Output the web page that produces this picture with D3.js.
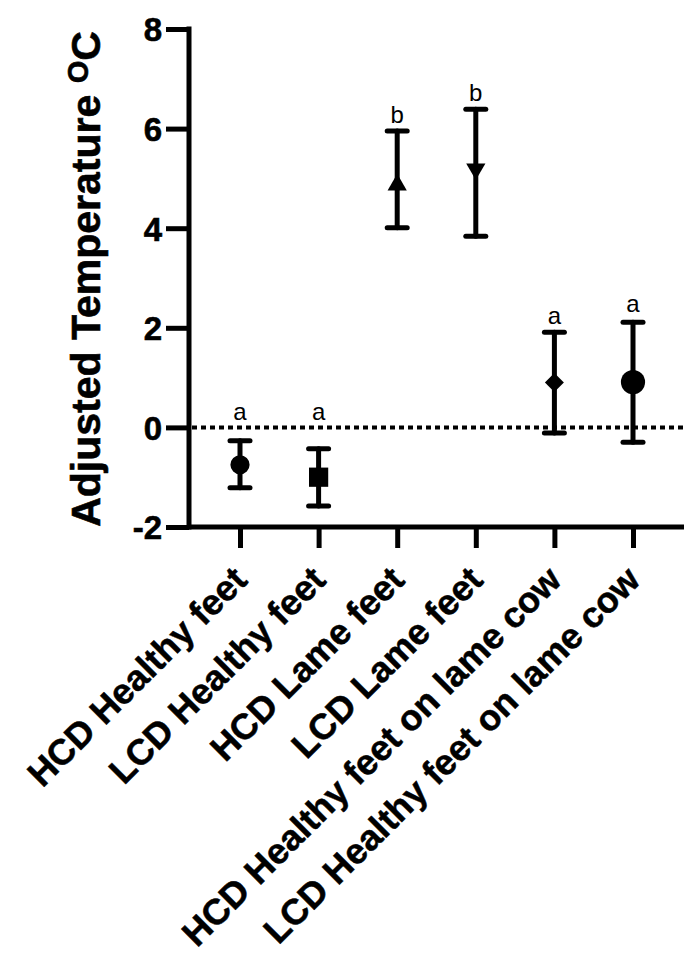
<!DOCTYPE html>
<html>
<head>
<meta charset="utf-8">
<script src="https://cdn.jsdelivr.net/npm/d3@7.9.0/dist/d3.min.js"></script>
<style>
  body { margin: 0; background: #fff; }
  svg { display: block; font-family: Arial, "Liberation Sans", sans-serif; }
</style>
</head>
<body>
<div id="chart"></div>
<script>
// data
const groups = ['HCD Healthy feet', 'LCD Healthy feet', 'HCD Lame feet', 'LCD Lame feet',
  'HCD Healthy feet on lame cow', 'LCD Healthy feet on lame cow'];
const means = [-0.75, -1.0, 4.87, 5.19, 0.90, 0.91];
const upper = [-0.27, -0.43, 5.95, 6.39, 1.91, 2.11];
const lower = [-1.21, -1.58, 4.01, 3.84, -0.11, -0.30];
const letters = ['a', 'a', 'b', 'b', 'a', 'a'];
const letterPos = [0.14, 0.14, 6.12, 6.55, 2.07, 2.31];
const yTicks = [-2, 0, 2, 4, 6, 8];

const width = 684;
const height = 963;

const svg = d3.select('#chart').append('svg')
  .attr('width', width)
  .attr('height', height);

const axisX = 189;
const y = d3.scaleLinear().domain([-2, 8]).range([527, 29]);
const x = d3.scalePoint().domain(groups).range([240, 633]);

// marker shapes, one per group
const shapes = [
  { type: d3.symbolCircle, size: 290, rot: 0 },
  { type: d3.symbolSquare, size: 370, rot: 0 },
  { type: d3.symbolTriangle, size: 160, rot: 0 },
  { type: d3.symbolTriangle, size: 160, rot: 180 },
  { type: d3.symbolSquare, size: 180, rot: 45 },
  { type: d3.symbolCircle, size: 460, rot: 0 }
];

// y axis
const yAxis = svg.append('g')
  .attr('transform', `translate(${axisX},0)`)
  .call(d3.axisLeft(y).tickValues(yTicks).tickFormat(d => String(d))
    .tickSize(23).tickSizeOuter(0).tickPadding(4));
yAxis.select('.domain').attr('stroke-width', 5).attr('stroke', '#000')
  .attr('d', `M0,${y(8) - 2.5}V${y(-2) + 2.5}`);
yAxis.selectAll('.tick line').attr('stroke-width', 5).attr('stroke', '#000');
yAxis.selectAll('.tick text')
  .attr('font-size', 33).attr('font-weight', 'bold').attr('fill', '#000')
  .attr('stroke', '#000').attr('stroke-width', 0.6)
  .attr('dy', '0.36em');

// x axis
const xAxis = svg.append('g')
  .attr('transform', `translate(0,${y(-2)})`)
  .call(d3.axisBottom(x).tickSize(21).tickSizeOuter(0).tickFormat(''));
xAxis.select('.domain').attr('stroke-width', 5).attr('stroke', '#000')
  .attr('d', `M${axisX},0H${width}`);
xAxis.selectAll('.tick line').attr('stroke-width', 5).attr('stroke', '#000');

svg.append('g')
  .selectAll('text')
  .data(groups)
  .join('text')
  .attr('transform', d => `translate(${x(d) + 9},${y(-2) + 55}) rotate(-45)`)
  .attr('text-anchor', 'end')
  .attr('font-size', 36)
  .attr('font-weight', 'bold')
  .attr('stroke', '#000').attr('stroke-width', 0.5)
  .text(d => d);

// y title
const title = svg.append('text')
  .attr('transform', `translate(100,${(y(-2) + y(8)) / 2 + 1}) rotate(-90)`)
  .attr('text-anchor', 'middle')
  .attr('font-size', 41)
  .attr('font-weight', 'bold')
  .attr('stroke', '#000').attr('stroke-width', 0.6);
title.append('tspan').text('Adjusted Temperature ');
title.append('tspan').attr('font-size', 29).attr('dy', -12).text('O');
title.append('tspan').attr('dy', 12).text('C');

// zero line
svg.append('line')
  .attr('x1', axisX + 3).attr('x2', width)
  .attr('y1', y(0)).attr('y2', y(0))
  .attr('stroke', '#000')
  .attr('stroke-width', 4)
  .attr('stroke-dasharray', '5 4');

// error bars
const bars = svg.append('g').attr('stroke', '#000').attr('stroke-width', 5).attr('stroke-linecap', 'round');
groups.forEach((g, i) => {
  bars.append('line')
    .attr('x1', x(g)).attr('x2', x(g))
    .attr('y1', y(upper[i])).attr('y2', y(lower[i]));
  [upper[i], lower[i]].forEach(v => {
    bars.append('line')
      .attr('x1', x(g) - 10).attr('x2', x(g) + 10)
      .attr('y1', y(v)).attr('y2', y(v));
  });
});

// markers
svg.append('g')
  .selectAll('path')
  .data(groups)
  .join('path')
  .attr('transform', (d, i) => `translate(${x(d)},${y(means[i])}) rotate(${shapes[i].rot})`)
  .attr('d', (d, i) => d3.symbol(shapes[i].type, shapes[i].size)())
  .attr('fill', '#000');

// significance letters
svg.append('g')
  .selectAll('text')
  .data(groups)
  .join('text')
  .attr('x', d => x(d))
  .attr('y', (d, i) => y(letterPos[i]))
  .attr('text-anchor', 'middle')
  .attr('font-size', 24)
  .text((d, i) => letters[i]);
</script>
</body>
</html>
